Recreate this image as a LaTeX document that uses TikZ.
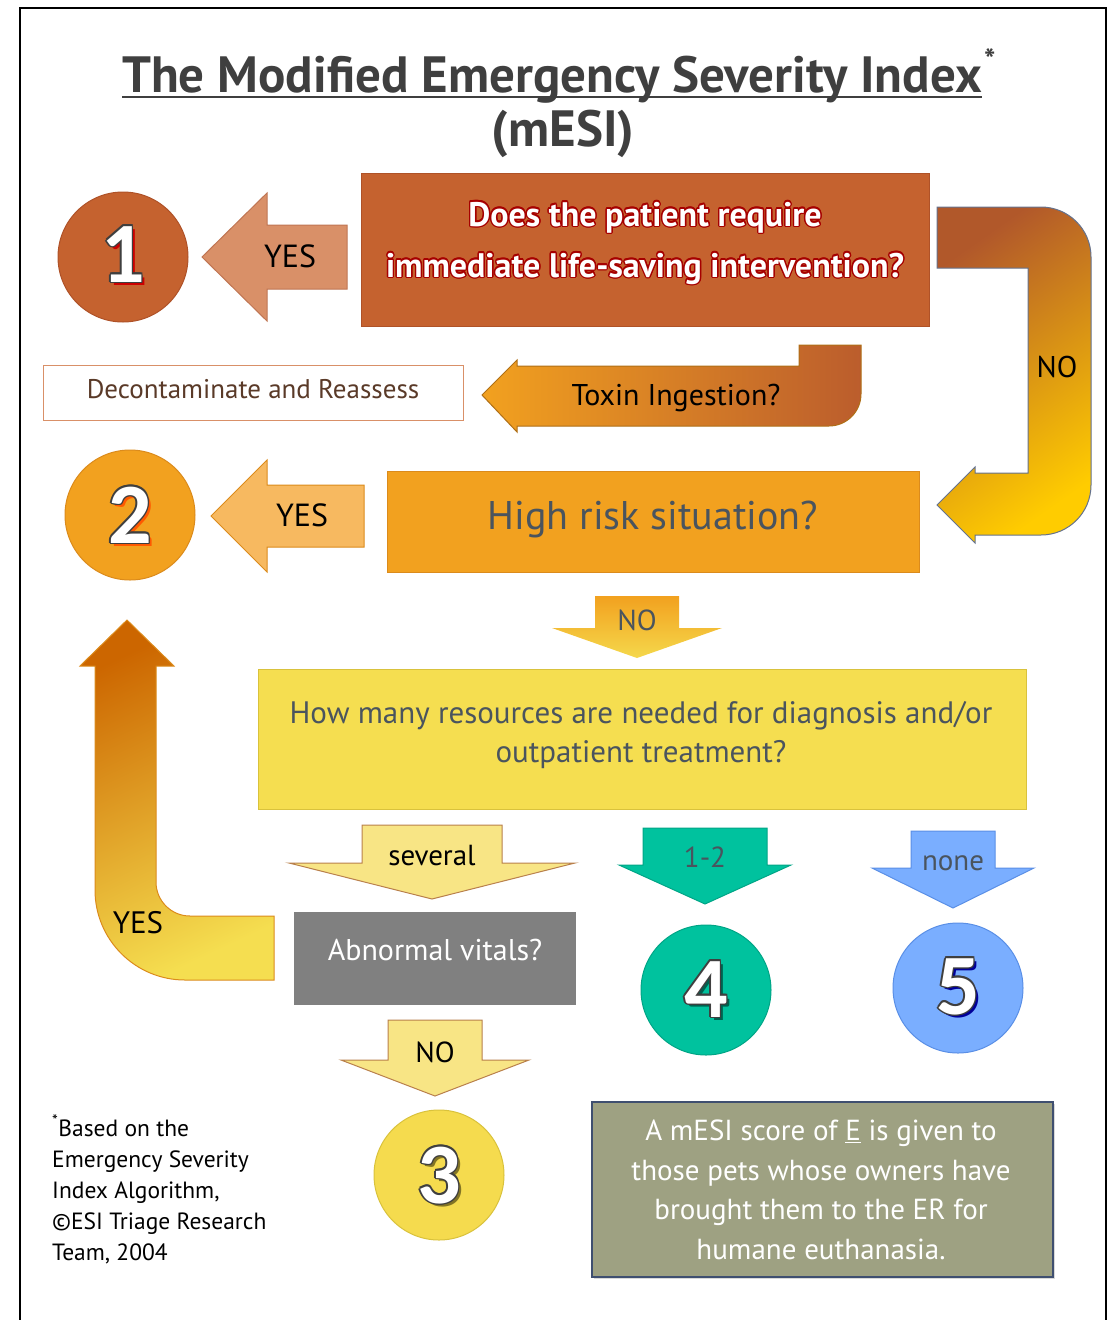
\documentclass[tikz,border=0pt]{standalone}
\usepackage{fontspec}
\setmainfont{PT Sans}
\newfontfamily\numfont{Carlito}
\usetikzlibrary{calc,shadows}

\definecolor{rust}{HTML}{C5622F}
\definecolor{rustedge}{HTML}{AF5228}
\definecolor{salmon}{HTML}{D99068}
\definecolor{amber}{HTML}{F2A11F}
\definecolor{amberedge}{HTML}{DB8B1C}
\definecolor{peach}{HTML}{F7B960}
\definecolor{lemon}{HTML}{F5DE50}
\definecolor{lemonedge}{HTML}{D9C23C}
\definecolor{pale}{HTML}{F8E585}
\definecolor{paleedge}{HTML}{B9804C}
\definecolor{mint}{HTML}{00C29E}
\definecolor{sky}{HTML}{7AAEFF}
\definecolor{skyedge}{HTML}{5A8FE6}
\definecolor{stone}{HTML}{808080}
\definecolor{moss}{HTML}{9EA182}
\definecolor{mossedge}{HTML}{3F4F70}
\definecolor{slate}{HTML}{4A545E}
\definecolor{ink}{HTML}{3F3F3F}
\definecolor{bark}{HTML}{5A3A28}

\newcommand*{\NumCircles}[1]{% #1 = list of name/x/y/baseline/fill/edge/shadow/number
  \foreach \nm/\cx/\cy/\by/\fc/\ec/\sc/\num in {#1} {
    \node[numcircle, fill=\fc, draw=\ec] (\nm) at (\cx,\cy) {};
    \node[numtext, text=\sc] at (\cx+3,\by+3) {\num};
    \foreach \ang in {0,45,...,315}
      \node[numtext, text=ink] at ($(\cx,\by)+(\ang:1.6)$) {\num};
    \node[numtext, text=white] at (\cx,\by) {\num};
  }%
}
\newcommand*{\DownArrows}[1]{% #1 = list of name/x/top/shaft/head y/head/tip/style/text colour/label
  \foreach \nm/\cx/\ty/\sw/\hy/\hw/\tp/\st/\tc/\lab in {#1} {
    \draw[\st] (\cx-\sw,\ty) -- (\cx+\sw,\ty) -- (\cx+\sw,\hy) -- (\cx+\hw,\hy)
      -- (\cx,\tp) -- (\cx-\hw,\hy) -- (\cx-\sw,\hy) -- cycle;
    \node[lbl, text=\tc] (\nm) at (\cx,\hy+2) {\lab};
  }%
}
\newcommand*{\LeftArrows}[1]{% #1 = list of name/tip x/y/head x/head/shaft/end x/style/label x/label
  \foreach \nm/\tx/\cy/\hx/\hh/\sh/\rx/\st/\lx/\lab in {#1} {
    \draw[\st] (\tx,\cy) -- (\hx,\cy-\hh) -- (\hx,\cy-\sh) -- (\rx,\cy-\sh) -- (\rx,\cy+\sh)
      -- (\hx,\cy+\sh) -- (\hx,\cy+\hh) -- cycle;
    \node[lbl, font=\fontsize{32}{34}\selectfont] (\nm) at (\lx,\cy+10) {\lab};
  }%
}
\newcommand*{\GlowText}[5]{% #1 = name, #2 = position, #3 = glow colour, #4 = style, #5 = text
  \foreach \ang in {0,30,...,330}
    \node[#4, text=#3] at ($(#2)+(\ang:1.4)$) {#5};
  \node[#4] (#1) at (#2) {#5};
}

\begin{document}
\begin{tikzpicture}[x=1pt,y=-1pt,
  lbl/.style={anchor=base, inner sep=0pt, font=\fontsize{29}{34}\selectfont},
  numcircle/.style={circle, minimum size=130pt, inner sep=0pt, line width=1pt},
  numtext/.style={anchor=base, inner sep=0pt, font=\numfont\bfseries\fontsize{86}{86}\selectfont},
  box/.style={rectangle, inner sep=0pt, line width=1pt, anchor=north west},
  boxtext/.style={anchor=base, inner sep=0pt, align=center},
  arrSalmon/.style={fill=salmon, draw=rustedge!80, line width=1pt},
  arrPeach/.style={fill=peach, draw=amberedge, line width=1pt},
  arrNo/.style={top color=amber, bottom color=lemon!90!amber, draw=none},
  arrPale/.style={fill=pale, draw=paleedge, line width=1pt},
  arrMint/.style={fill=mint, draw=mint!85!black, line width=1pt},
  arrSky/.style={fill=sky, draw=skyedge, line width=1pt}]
  \useasboundingbox (0,0) rectangle (1115,1320);
  \draw[line width=1.5pt] (20,1320) -- (20,8) -- (1106,8) -- (1106,1320);

  % title
  \node[anchor=base, inner sep=0pt, text=ink, font=\bfseries\fontsize{51}{55}\selectfont]
    (title) at (552,92) {The Modified Emergency Severity Index};
  \node[anchor=base west, inner sep=0pt, text=ink, font=\bfseries\fontsize{30}{30}\selectfont]
    (star) at ($(title.base east)+(2,-22)$) {*};
  \draw[ink, line width=2.5pt] ($(title.base west)+(0,5)$) -- ($(title.base east)+(0,5)$);
  \node[anchor=base, inner sep=0pt, text=ink, font=\bfseries\fontsize{51}{55}\selectfont]
    (acro) at (563,146) {(mESI)};

  % boxes
  \node[box, fill=rust, draw=rustedge, minimum width=568pt, minimum height=153pt] (life) at (361,173) {};
  \node[box, fill=white, draw=salmon, minimum width=420pt, minimum height=55pt] (decon) at (43,365) {};
  \node[box, fill=amber, draw=amberedge, minimum width=532pt, minimum height=101pt] (risk) at (387,471) {};
  \node[box, fill=lemon, draw=lemonedge, minimum width=768pt, minimum height=140pt] (res) at (258,669) {};
  \node[box, fill=stone, draw=stone, minimum width=281pt, minimum height=92pt] (vitals) at (294,912) {};
  \node[box, fill=moss, draw=mossedge, line width=1.5pt, drop shadow={opacity=0.3},
    minimum width=461pt, minimum height=175pt] (euth) at (591,1101) {};

  \GlowText{lifetext}{645,277}{red!65!black}{boxtext, text=white,
    font=\bfseries\fontsize{34}{51}\selectfont}{Does the patient require\\immediate life-saving intervention?}
  \node[boxtext, text=bark, font=\fontsize{27}{30}\selectfont] (decontext) at (253,398) {Decontaminate and Reassess};
  \node[boxtext, text=slate, font=\fontsize{40}{44}\selectfont] (risktext) at (653,529) {High risk situation?};
  \node[boxtext, text=slate, font=\fontsize{31}{39}\selectfont] (restext) at (641,762)
    {How many resources are needed for diagnosis and/or\\outpatient treatment?};
  \node[boxtext, text=white, font=\fontsize{30}{34}\selectfont] (vitalstext) at (435,960) {Abnormal vitals?};
  \node[boxtext, text=white, font=\fontsize{29}{39.5}\selectfont] (euthtext) at (821,1259)
    {A mESI score of \underline{E} is given to\\those pets whose owners have\\brought them to the ER for\\humane euthanasia.};

  % arrows
  \LeftArrows{yesA/202/257/267/64/32/347/arrSalmon/290/YES,
    yesB/211/516/267/56/31/364/arrPeach/302/YES}
  \DownArrows{noA/637/596/42/628/85/658/arrNo/slate/NO,
    several/432/825/70/863/143/899/arrPale/black/several,
    few/705/828/62/865/86/904/arrMint/slate/1-2,
    none/953/831/42/868/81/908/arrSky/slate/none,
    noB/435/1020/47/1060/94/1096/arrPale/black/NO}

  \draw[left color=amber, right color=rust!95!black, draw=amberedge!80!black, line width=1pt]
    (482,395) -- (517,360) -- (517,366) -- (799,366) -- (799,345) -- (861,345) -- (861,394)
    arc[start angle=0, end angle=90, radius=32] -- (517,426) -- (517,432) -- cycle;
  \node[lbl, font=\fontsize{30}{34}\selectfont] (toxin) at (676,405) {Toxin Ingestion?};

  \draw[top color=rust!90!black, bottom color=yellow!60!orange, shading angle=35, draw=mossedge!80, line width=1pt]
    (937,207) -- (1041,207) arc[start angle=-90, end angle=0, radius=50] -- (1091,485)
    arc[start angle=0, end angle=90, radius=50] -- (975,535) -- (975,543) -- (937,505)
    -- (975,467) -- (975,473) -- (1028,473) -- (1028,268) -- (937,268) -- cycle;
  \node[lbl, font=\fontsize{30}{34}\selectfont] (noC) at (1057,377) {NO};

  \draw[top color=orange!80!black, bottom color=lemon, shading angle=25, draw=amberedge, line width=1pt]
    (127,620) -- (174,666) -- (156,666) -- (156,882) arc[start angle=180, end angle=90, radius=34]
    -- (274,916) -- (274,980) -- (185,980) arc[start angle=90, end angle=180, radius=90]
    -- (95,666) -- (80,666) -- cycle;
  \node[lbl, font=\fontsize{31}{34}\selectfont] (yesC) at (138,933) {YES};

  % levels
  \NumCircles{one/123/257/282/rust/rustedge/red!80!black/1,
    two/130/515/543/amber/amberedge/orange!70!red/2,
    three/439/1175/1203/lemon!95!amber/lemonedge/lemonedge!60!black/3,
    four/706/990/1017/mint/mint!85!black/mint!50!black/4,
    five/958/988/1014/sky/skyedge/blue!60!black/5}

  \node[anchor=base west, inner sep=0pt, align=left, font=\fontsize{23.5}{31}\selectfont] (note) at (52,1260)
    {\textsuperscript{*}Based on the\\Emergency Severity\\Index Algorithm,\\©ESI Triage Research\\Team, 2004};
\end{tikzpicture}
\end{document}
